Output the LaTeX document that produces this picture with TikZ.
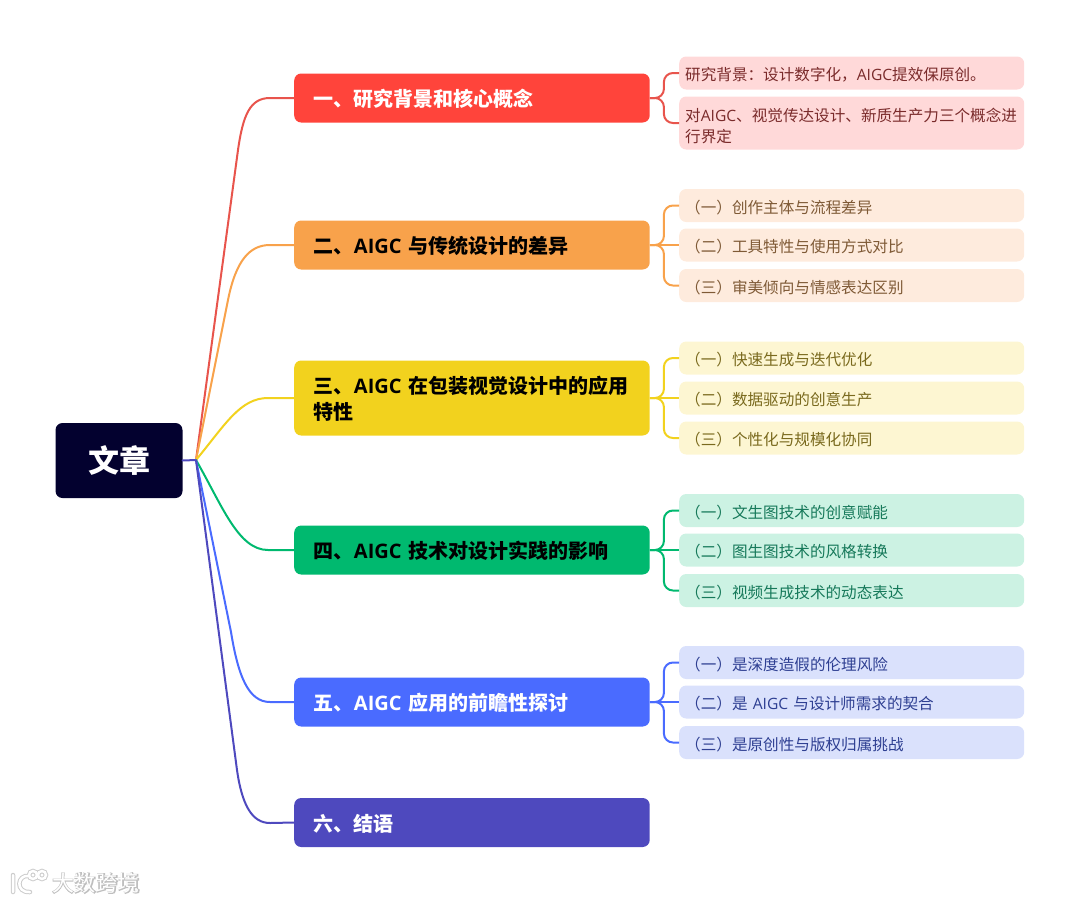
\documentclass[tikz,border=0pt]{standalone}
\usepackage{fontspec}
\setmainfont{Noto Sans CJK SC}
\newfontfamily\latfont{Open Sans}
\newfontfamily\markfont[FakeBold=6]{Noto Sans CJK SC}
\newcommand{\aigc}{{\latfont AIGC}}
\usepackage{xcolor}
\usetikzlibrary{positioning,calc}
\definecolor{rootdark}{HTML}{03012F}
\definecolor{redmain}{HTML}{FF443B}
\definecolor{redline}{HTML}{E8544C}
\definecolor{orangemain}{HTML}{F8A24B}
\definecolor{yellowmain}{HTML}{F2D21E}
\definecolor{greenmain}{HTML}{00B96F}
\definecolor{bluemain}{HTML}{4A6BFF}
\definecolor{indigomain}{HTML}{4E49BE}
\definecolor{redsoft}{HTML}{FFD9D9}
\definecolor{orangesoft}{HTML}{FEEBDD}
\definecolor{yellowsoft}{HTML}{FDF6D2}
\definecolor{greensoft}{HTML}{CCF2E3}
\definecolor{bluesoft}{HTML}{DAE1FC}
\definecolor{redtext}{HTML}{7A2B2B}
\definecolor{orangetext}{HTML}{7F5A36}
\definecolor{yellowtext}{HTML}{7A6A1E}
\definecolor{greentext}{HTML}{16795A}
\definecolor{bluetext}{HTML}{2E3F92}
\tikzset{
  rootbox/.style={rectangle,rounded corners=7pt,fill=rootdark,text=white,minimum width=127pt,minimum height=75pt,font=\fontsize{31}{36}\selectfont\bfseries},
  branchbox/.style={rectangle,rounded corners=7pt,anchor=west,minimum width=355.5pt,minimum height=49pt,inner xsep=19.5pt,inner ysep=0pt,text width=316pt,align=left,font=\fontsize{20}{26}\selectfont\bfseries,text height=19pt,text depth=2pt},
  leafbox/.style={rectangle,rounded corners=7pt,anchor=west,minimum width=345pt,minimum height=33pt,inner xsep=6pt,inner ysep=0pt,text width=333pt,align=left,font=\fontsize{15.6}{21}\selectfont,text height=16pt,text depth=1pt},
  link/.style={line width=2pt,line cap=round},
  sublink/.style={line width=2pt,rounded corners=9pt}
}
\begin{document}
\begin{tikzpicture}[x=1pt,y=-1pt]
  \useasboundingbox (0,0) rectangle (1080,903);
  \node[rootbox] (root) at (119,460.5) {\raisebox{-3pt}{文章}};
  \coordinate (hub) at (196,460);
  % branches
  \node[branchbox,fill=redmain,text=white] (b1) at (294,98) {一、研究背景和核心概念};
  \node[branchbox,fill=orangemain,text=black] (b2) at (294,245) {二、\aigc{} 与传统设计的差异};
  \node[branchbox,fill=yellowmain,text=black,minimum height=75pt,text depth=28pt] (b3) at (294,398) {三、\aigc{} 在包装视觉设计中的应用\\特性};
  \node[branchbox,fill=greenmain,text=black] (b4) at (294,550) {四、\aigc{} 技术对设计实践的影响};
  \node[branchbox,fill=bluemain,text=white] (b5) at (294,702) {五、\aigc{} 应用的前瞻性探讨};
  \node[branchbox,fill=indigomain,text=white] (b6) at (294,822.5) {六、结语};
  % leaves
  \node[leafbox,fill=redsoft,text=redtext] (l11) at (679,73) {研究背景：设计数字化，{\latfont AIGC}提效保原创。};
  \node[leafbox,fill=redsoft,text=redtext,minimum height=53pt,text depth=20pt] (l12) at (679,123) {对{\latfont AIGC}、视觉传达设计、新质生产力三个概念进\\行界定};
  \node[leafbox,fill=orangesoft,text=orangetext] (l21) at (679,205.5) {（一）创作主体与流程差异};
  \node[leafbox,fill=orangesoft,text=orangetext] (l22) at (679,245) {（二）工具特性与使用方式对比};
  \node[leafbox,fill=orangesoft,text=orangetext] (l23) at (679,285.5) {（三）审美倾向与情感表达区别};
  \node[leafbox,fill=yellowsoft,text=yellowtext] (l31) at (679,358) {（一）快速生成与迭代优化};
  \node[leafbox,fill=yellowsoft,text=yellowtext] (l32) at (679,398) {（二）数据驱动的创意生产};
  \node[leafbox,fill=yellowsoft,text=yellowtext] (l33) at (679,438) {（三）个性化与规模化协同};
  \node[leafbox,fill=greensoft,text=greentext] (l41) at (679,510.5) {（一）文生图技术的创意赋能};
  \node[leafbox,fill=greensoft,text=greentext] (l42) at (679,550) {（二）图生图技术的风格转换};
  \node[leafbox,fill=greensoft,text=greentext] (l43) at (679,590.5) {（三）视频生成技术的动态表达};
  \node[leafbox,fill=bluesoft,text=bluetext] (l51) at (679,662.5) {（一）是深度造假的伦理风险};
  \node[leafbox,fill=bluesoft,text=bluetext] (l52) at (679,702) {（二）是 \aigc{} 与设计师需求的契合};
  \node[leafbox,fill=bluesoft,text=bluetext] (l53) at (679,742.5) {（三）是原创性与版权归属挑战};
  % links from the root
  \draw[link,indigomain] (root.east) -- (hub);
  \draw[link,redline] (hub) -- (238,150) .. controls (243,115) and (250,98) .. (270,98) -- (b1.west);
  \draw[link,orangemain] (hub) -- (228,300) .. controls (236,260) and (250,245) .. (270,245) -- (b2.west);
  \draw[link,yellowmain] (hub) .. controls (225,425) and (240,398) .. (268,398) -- (b3.west);
  \draw[link,greenmain] (hub) .. controls (222,505) and (238,550) .. (268,550) -- (b4.west);
  \draw[link,bluemain] (hub) -- (231,632) .. controls (238,675) and (248,702) .. (270,702) -- (b5.west);
  \draw[link,indigomain] (hub) -- (237,770) .. controls (242,805) and (252,823) .. (270,823) -- (b6.west);
  % links to the leaves
  \foreach \b/\l/\c in {b1/l11/redline,b1/l12/redline,b2/l21/orangemain,b2/l23/orangemain,b3/l31/yellowmain,b3/l33/yellowmain,b4/l41/greenmain,b4/l43/greenmain,b5/l51/bluemain,b5/l53/bluemain}
    \draw[sublink,\c] (\b.east) -- ++(14,0) |- (\l.west);
  \foreach \b/\l/\c in {b2/l22/orangemain,b3/l32/yellowmain,b4/l42/greenmain,b5/l52/bluemain}
    \draw[link,line cap=butt,\c] (\b.east) -- (\l.west);
  % watermark
  \node[text=gray!50,font=\fontsize{22}{24}\markfont] (markback) at (96,883) {大数跨境};
  \node[text=white,font=\fontsize{22}{24}\selectfont] (mark) at (96,883) {大数跨境};
  \draw[gray!40,line width=4.5pt,line cap=round] (13,875) -- (13,892) (29,876) .. controls (17,874) and (15,893) .. (30,892) (33,875) circle[radius=4] (42,875) circle[radius=4];
  \draw[white,line width=2.5pt,line cap=round] (13,875) -- (13,892) (29,876) .. controls (17,874) and (15,893) .. (30,892) (33,875) circle[radius=4] (42,875) circle[radius=4];
\end{tikzpicture}
\end{document}
